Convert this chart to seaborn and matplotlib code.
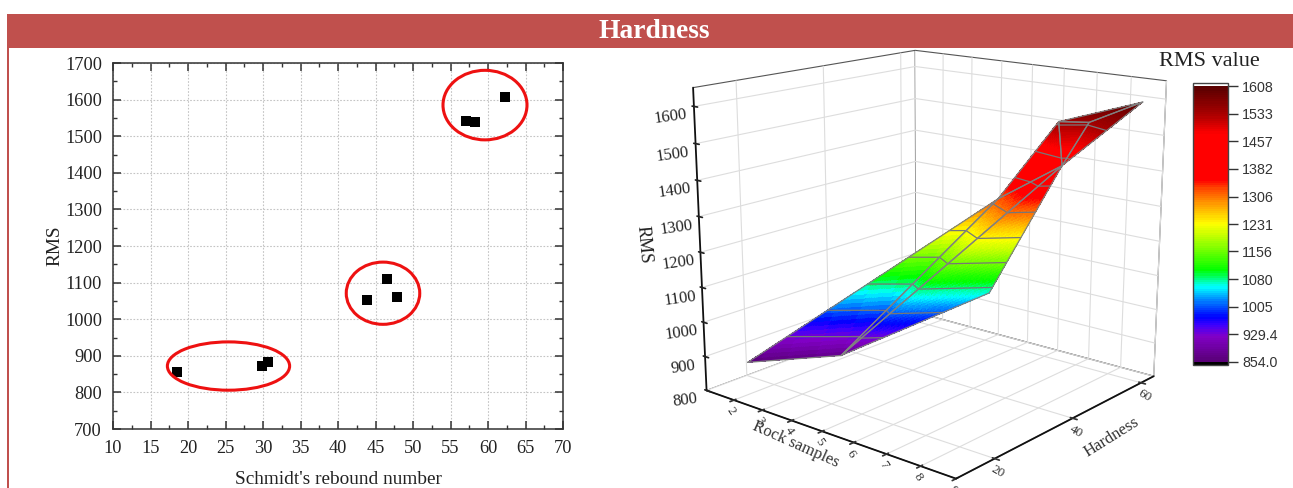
import numpy as np
import matplotlib
matplotlib.use("Agg")
import matplotlib.pyplot as plt
import matplotlib.tri as mtri
from matplotlib.colors import LinearSegmentedColormap, Normalize
from matplotlib.patches import Ellipse, Rectangle
from matplotlib.cm import ScalarMappable
import seaborn as sns
import pandas as pd

# scatter data
rebound = [18.5, 29.9, 30.6, 43.9, 46.5, 47.8, 57.1, 58.3, 62.2]
rms = [855, 873, 883, 1053, 1109, 1062, 1541, 1539, 1607]
# clusters (x, y, width, height)
cluster_x = [25.4, 46.0, 59.6]
cluster_y = [872, 1071, 1585]
cluster_w = [16.3, 9.8, 11.2]
cluster_h = [132, 170, 190]
# surface vertices
surf_sample = [1.3, 3.1, 6.0, 7.67, 5.87, 7.1, 7.67, 9.0]
surf_hard = [18.5, 28.6, 44.0, 48.1, 47.2, 52.3, 55.4, 57.1]
surf_rms = [855, 875, 1063, 1440, 1320, 1541, 1539, 1608]
surf_tris = [[0, 1, 4], [1, 2, 3], [1, 3, 4], [4, 3, 5], [3, 7, 6], [3, 6, 5], [5, 6, 7]]
cbar_ticks = [854.0, 929.4, 1005, 1080, 1156, 1231, 1306, 1382, 1457, 1533, 1608]
cbar_labels = ["854.0", "929.4", "1005", "1080", "1156", "1231", "1306", "1382", "1457", "1533", "1608"]
hard_ticks = [20, 40, 60]
sample_ticks = [2, 3, 4, 5, 6, 7, 8, 9]
rms_ticks = [800, 900, 1000, 1100, 1200, 1300, 1400, 1500, 1600]

sns.set_theme(style="ticks")
plt.rcParams["font.family"] = ["Liberation Serif", "DejaVu Serif"]
W, H = 1293, 488
fig = plt.figure(figsize=(W / 100, H / 100), dpi=100, facecolor="white")

# banner
fig.add_artist(Rectangle((7 / W, 1 - 48 / H), (W - 7) / W, 34 / H, transform=fig.transFigure,
                         facecolor="#C0504D", edgecolor="none"))
fig.add_artist(Rectangle((7 / W, 0), 1.6 / W, 1 - 48 / H, transform=fig.transFigure,
                         facecolor="#C0504D", edgecolor="none"))
fig.text(654 / W, 1 - 32 / H, "Hardness", color="white", fontsize=19.8, fontweight="bold",
         ha="center", va="center")

# scatter panel
ax = fig.add_axes([113 / W, 1 - 429 / H, 450 / W, 366 / H])
df = pd.DataFrame({"x": rebound, "y": rms})
sns.scatterplot(data=df, x="x", y="y", marker="s", s=62, color="black", linewidth=0, ax=ax, zorder=4)
for cx, cy, cw, ch in zip(cluster_x, cluster_y, cluster_w, cluster_h):
    ax.add_patch(Ellipse((cx, cy), cw, ch, fill=False, edgecolor="#EE1111", linewidth=2.2, zorder=5))
ax.set_xlim(10, 70)
ax.set_ylim(700, 1700)
ax.set_xticks(np.arange(10, 71, 5))
ax.set_yticks(np.arange(700, 1701, 100))
ax.set_xticks(np.arange(12.5, 70, 5), minor=True)
ax.set_yticks(np.arange(750, 1700, 100), minor=True)
ax.grid(True, which="major", color="#C4C4C4", linestyle=(0, (1.5, 1.5)), linewidth=0.8)
ax.set_axisbelow(True)
ax.tick_params(which="major", direction="in", length=6, width=1.1, top=True, right=True,
               labelsize=13.2, color="#333333", labelcolor="#222222", pad=8)
ax.tick_params(which="minor", direction="in", length=3, width=1.0, top=True, right=True, color="#333333")
for s in ax.spines.values():
    s.set_linewidth(1.1)
    s.set_color("#333333")
ax.set_xlabel("Schmidt's rebound number", fontsize=13.9, color="#222222", labelpad=10)
ax.set_ylabel("RMS", fontsize=13.9, color="#222222", labelpad=1)

# colormap
stops = [(0, "#5A0078"), (0.09, "#8200C8"), (0.13, "#3C00FF"), (0.16, "#0000FF"), (0.22, "#0082FF"),
         (0.27, "#00FFFF"), (0.30, "#00FF82"), (0.33, "#00FF00"), (0.44, "#AAFF00"), (0.50, "#FFFF00"),
         (0.57, "#FFA000"), (0.63, "#FF4600"), (0.66, "#FF0000"), (0.83, "#FF0000"), (0.90, "#AA0000"),
         (1.0, "#5A0000")]
cmap = LinearSegmentedColormap.from_list("rms", stops, N=128)
cmap.set_under("black")
cmap.set_over("white")
norm = Normalize(854, 1608)

# surface panel
ax3 = fig.add_axes([647 / W, 20 / H, 560 / W, 448 / H], projection="3d", facecolor="none")
ax3.computed_zorder = False
ax3.view_init(elev=15.5, azim=-50)
ax3.set_proj_type("persp", focal_length=0.6)
ax3.set_xlim(1, 9)
ax3.set_ylim(11, 64)
ax3.set_zlim(800, 1650)
ax3.set_box_aspect((1, 1, 0.95), zoom=1.205)

sx = np.array(surf_sample, dtype=float)
sy = np.array(surf_hard, dtype=float)
zvals = np.array(surf_rms, dtype=float)


def subdivide(tris, n=36):
    """Split each mesh facet so the colour map varies smoothly across it."""
    xs, ys, zs, out = [], [], [], []
    for t in tris:
        index = {}
        for i in range(n + 1):
            for j in range(n + 1 - i):
                k = n - i - j
                index[(i, j)] = len(xs)
                xs.append((i * sx[t[0]] + j * sx[t[1]] + k * sx[t[2]]) / n)
                ys.append((i * sy[t[0]] + j * sy[t[1]] + k * sy[t[2]]) / n)
                zs.append((i * zvals[t[0]] + j * zvals[t[1]] + k * zvals[t[2]]) / n)
        for i in range(n):
            for j in range(n - i):
                out.append([index[(i, j)], index[(i + 1, j)], index[(i, j + 1)]])
                if i + j < n - 1:
                    out.append([index[(i + 1, j)], index[(i + 1, j + 1)], index[(i, j + 1)]])
    return np.array(xs), np.array(ys), np.array(zs), np.array(out)


fx, fy, fz, ftri = subdivide(surf_tris)
ax3.plot_trisurf(fx, fy, fz, triangles=ftri, cmap=cmap, norm=norm, linewidth=0, antialiased=False,
                 shade=False, zorder=2)
tri = mtri.Triangulation(sx, sy, triangles=surf_tris)
ax3.tricontour(tri, zvals, levels=cbar_ticks[1:-1], colors="#777777", linewidths=0.9, zorder=3)
for a, b, c in surf_tris:
    idx = [a, b, c, a]
    ax3.plot(sx[idx], sy[idx], zvals[idx], color="#808080", linewidth=0.9, zorder=4)

for axis in (ax3.xaxis, ax3.yaxis, ax3.zaxis):
    axis.set_pane_color((1, 1, 1, 1))
    axis.pane.set_edgecolor("#555555")
    axis.pane.set_linewidth(0.8)
    axis._axinfo["grid"].update(color="#DDDDDD", linewidth=0.8)
    axis.line.set_color("#111111")
    axis.line.set_linewidth(1.3)
ax3.zaxis._axinfo["juggled"] = (1, 2, 0)
ax3.set_xticks(sample_ticks)
ax3.set_yticks(hard_ticks)
ax3.set_zticks(rms_ticks)
ax3.tick_params(axis="x", labelsize=9.5, pad=-6, labelrotation=-55, colors="#333333")
ax3.tick_params(axis="y", labelsize=9.5, pad=-6, labelrotation=-30, colors="#333333")
ax3.tick_params(axis="z", labelsize=12, pad=0, labelrotation=8, colors="#222222")
ax3.set_zlabel("RMS", fontsize=13, labelpad=-1, rotation=-85, color="#222222")
ax3.text2D(796 / W, 1 - 445 / H, "Rock samples", transform=fig.transFigure, fontsize=12, rotation=-24,
           ha="center", va="center", color="#333333")
ax3.text2D(1112 / W, 1 - 437 / H, "Hardness", transform=fig.transFigure, fontsize=12, rotation=32,
           ha="center", va="center", color="#333333")

# colour scale
cax = fig.add_axes([1193 / W, 1 - 365 / H, 35 / W, 282 / H])
cb = fig.colorbar(ScalarMappable(norm=norm, cmap=cmap), cax=cax, extend="both", extendrect=True,
                  extendfrac=0.012, ticks=cbar_ticks)
cb.set_ticklabels(cbar_labels)
cax.tick_params(labelsize=10.3, length=7, width=1.0, color="#333333", labelcolor="#333333", pad=3,
                labelfontfamily="Liberation Sans")
cb.outline.set_edgecolor("#444444")
cb.outline.set_linewidth(1.0)
fig.text(1209.5 / W, 1 - 61 / H, "RMS value", fontsize=16, ha="center", va="center", color="#222222")

fig.savefig("out.png", dpi=100)
